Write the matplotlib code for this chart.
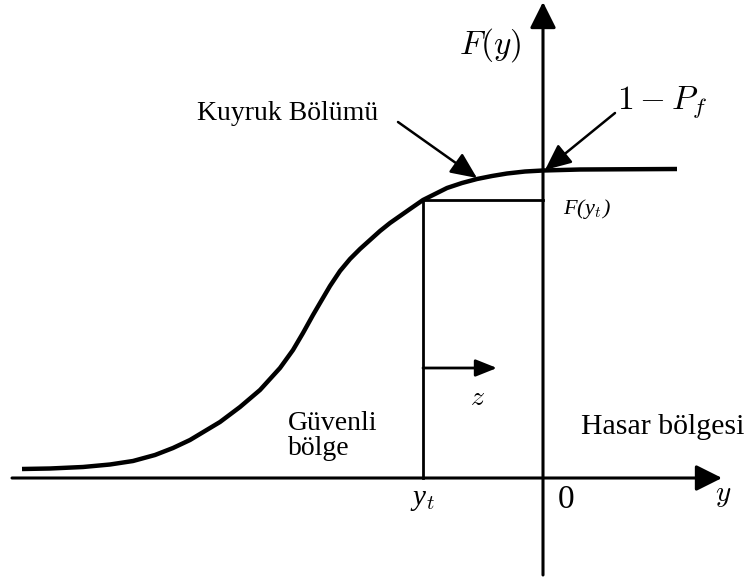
import numpy as np
import matplotlib.pyplot as plt

plt.rcParams['mathtext.fontset'] = 'cm'

# CDF curve F(y) (origin = axes crossing, pixel units)
curve_y = [-521, -493, -460, -433, -410, -388, -370, -353, -343, -323, -303, -283,
           -263, -250, -240, -230, -223, -213, -203, -193, -183, -173, -163, -153,
           -143, -133, -120, -108, -96, -81, -66, -51, -36, -18, 0, 37, 134]
curve_F = [9, 9.5, 11, 13.5, 17, 23, 30, 38, 44, 56, 71, 88,
           110, 128, 145, 163, 175, 192, 207, 219, 229, 238, 247, 255,
           262, 269, 278, 284, 290, 295, 299, 302, 304.5, 306.5, 307.5, 308.5, 309]

y_t = -120          # threshold position
F_yt = 278          # F(y_t)
z_end = -46         # end of the z arrow
z_level = 110       # height of the z arrow

fig = plt.figure(figsize=(7.5, 5.79), dpi=100)
ax = fig.add_axes([0, 0, 1, 1])
ax.set_xlim(-543, 207)
ax.set_ylim(-101, 478)
ax.axis('off')

# axes with arrows
ax.annotate('', xy=(179, 0), xytext=(-531, 0),
            arrowprops=dict(arrowstyle='-|>,head_length=1.0,head_width=0.5',
                            lw=2.2, color='k', mutation_scale=16, shrinkA=0, shrinkB=0))
ax.annotate('', xy=(0, 476), xytext=(0, -97),
            arrowprops=dict(arrowstyle='-|>,head_length=1.0,head_width=0.5',
                            lw=2.2, color='k', mutation_scale=16, shrinkA=0, shrinkB=0))

# curve
ax.plot(curve_y, curve_F, color='k', lw=3.2, solid_capstyle='butt', solid_joinstyle='round')

# threshold lines
ax.plot([y_t, y_t], [0, F_yt], color='k', lw=2)
ax.plot([y_t, 0], [F_yt, F_yt], color='k', lw=2)

# z arrow
ax.annotate('', xy=(z_end, z_level), xytext=(y_t, z_level),
            arrowprops=dict(arrowstyle='-|>,head_length=1.0,head_width=0.4',
                            lw=2, color='k', mutation_scale=13, shrinkA=0, shrinkB=0))

# pointer arrows
ax.annotate('', xy=(-66, 300), xytext=(-145, 356),
            arrowprops=dict(arrowstyle='-|>,head_length=1.0,head_width=0.45',
                            lw=1.8, color='k', mutation_scale=16, shrinkA=0, shrinkB=0))
ax.annotate('', xy=(2, 308), xytext=(72, 365),
            arrowprops=dict(arrowstyle='-|>,head_length=1.0,head_width=0.45',
                            lw=1.8, color='k', mutation_scale=16, shrinkA=0, shrinkB=0))

# labels
serif = 'Liberation Serif'
ax.text(-53, 433, r'$F(y)$', fontsize=24, ha='center', va='center')
ax.text(119, 376, r'$1-P_f$', fontsize=24, ha='center', va='center')
ax.text(-255, 365, 'Kuyruk Bölümü', family=serif, fontsize=20, ha='center', va='center')
ax.text(44, 269, r'F(y$_t$)', family=serif, style='italic', fontsize=16,
        ha='center', va='center')
ax.text(-65, 81, r'$z$', fontsize=20, ha='center', va='center')
ax.text(-255, 42, 'Güvenli\nbölge', family=serif, fontsize=20, ha='left', va='center',
        linespacing=1.0)
ax.text(120, 51, 'Hasar bölgesi', family=serif, fontsize=21.5, ha='center', va='center')
ax.text(-120, -22, r'y$_t$', family=serif, style='italic', fontsize=21,
        ha='center', va='center')
ax.text(23, -22, '0', family=serif, fontsize=24, ha='center', va='center')
ax.text(180, -17, r'$y$', fontsize=21, ha='center', va='center')

fig.savefig('out.png', dpi=100)
